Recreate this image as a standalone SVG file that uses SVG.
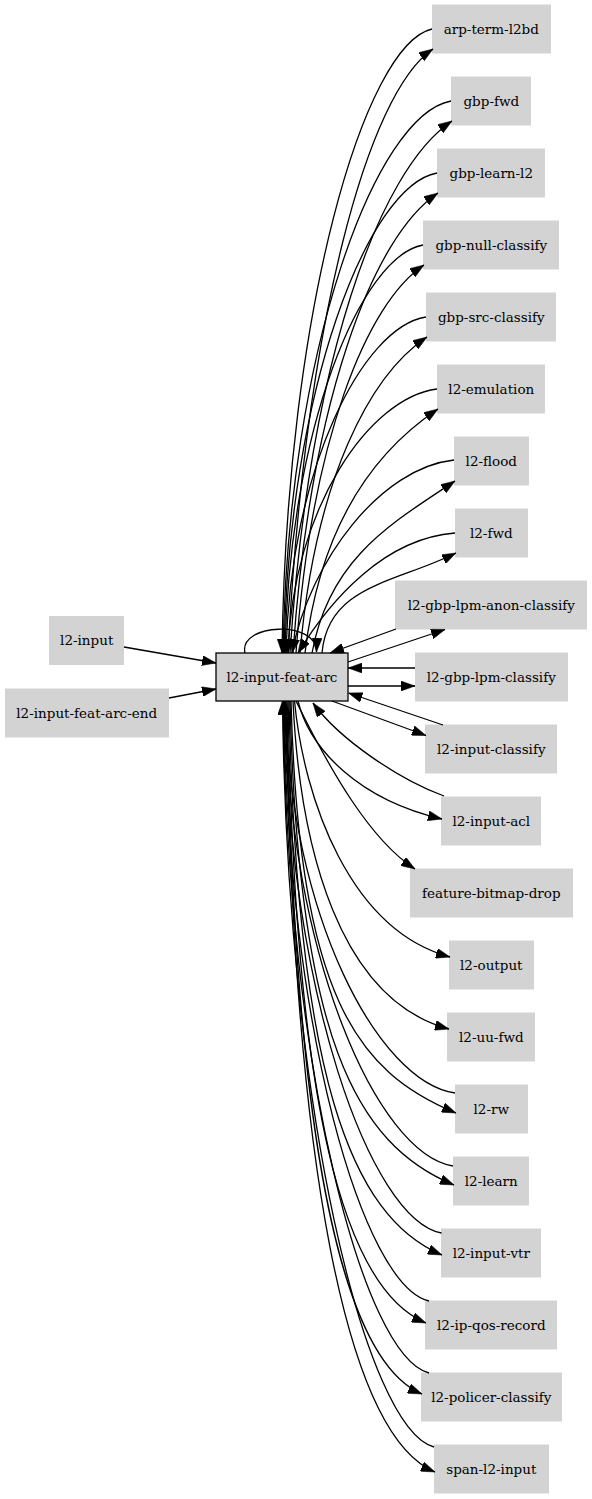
<svg xmlns="http://www.w3.org/2000/svg" width="592" height="1499" viewBox="0 0 592 1499">
<style>
.n rect{fill:#d3d3d3;stroke:none}
.c rect{fill:#d3d3d3;stroke:#000;stroke-width:1.3}
text{font-family:"DejaVu Serif","Liberation Serif",serif;font-size:13.5px;text-anchor:middle;fill:#000}
#edges path{fill:none;stroke:#000;stroke-width:1.3;marker-end:url(#ah)}
</style>
<defs>
<marker id="ah" markerUnits="userSpaceOnUse" markerWidth="14" markerHeight="10" viewBox="0 0 14 10" refX="14" refY="5" orient="auto">
<path d="M0,0 L14,5 L0,10 z" fill="#000" stroke="#000" stroke-width="0.5"/>
</marker>
</defs>
<rect width="592" height="1499" fill="#fff"/>
<g id="l2-input-feat-arc" class="c"><rect x="216" y="653" width="132" height="48"/><text x="282" y="681.7">l2-input-feat-arc</text></g>
<g id="l2-input" class="n"><rect x="49" y="616" width="75" height="49"/><text x="86.7" y="645.2">l2-input</text></g>
<g id="l2-input-feat-arc-end" class="n"><rect x="5" y="688.5" width="164" height="49"/><text x="86.7" y="717.7">l2-input-feat-arc-end</text></g>
<g id="arp-term-l2bd" class="n"><rect x="432" y="4.5" width="119" height="49"/><text x="491.3" y="33.7">arp-term-l2bd</text></g>
<g id="gbp-fwd" class="n"><rect x="451" y="76.5" width="80" height="49"/><text x="491.3" y="105.7">gbp-fwd</text></g>
<g id="gbp-learn-l2" class="n"><rect x="437" y="148.5" width="108" height="49"/><text x="491.3" y="177.7">gbp-learn-l2</text></g>
<g id="gbp-null-classify" class="n"><rect x="423" y="220.5" width="136" height="49"/><text x="491.3" y="249.7">gbp-null-classify</text></g>
<g id="gbp-src-classify" class="n"><rect x="426" y="292.5" width="130" height="49"/><text x="491.3" y="321.7">gbp-src-classify</text></g>
<g id="l2-emulation" class="n"><rect x="437" y="364.5" width="108" height="49"/><text x="491.3" y="393.7">l2-emulation</text></g>
<g id="l2-flood" class="n"><rect x="454" y="436.5" width="75" height="49"/><text x="491.3" y="465.7">l2-flood</text></g>
<g id="l2-fwd" class="n"><rect x="455" y="508.5" width="73" height="49"/><text x="491.3" y="537.7">l2-fwd</text></g>
<g id="l2-gbp-lpm-anon-classify" class="n"><rect x="395" y="580.5" width="192" height="49"/><text x="491.3" y="609.7">l2-gbp-lpm-anon-classify</text></g>
<g id="l2-gbp-lpm-classify" class="n"><rect x="415" y="652.5" width="153" height="49"/><text x="491.3" y="681.7">l2-gbp-lpm-classify</text></g>
<g id="l2-input-classify" class="n"><rect x="425" y="724.5" width="132" height="49"/><text x="491.3" y="753.7">l2-input-classify</text></g>
<g id="l2-input-acl" class="n"><rect x="441" y="796.5" width="100" height="49"/><text x="491.3" y="825.7">l2-input-acl</text></g>
<g id="feature-bitmap-drop" class="n"><rect x="410" y="868.5" width="163" height="49"/><text x="491.3" y="897.7">feature-bitmap-drop</text></g>
<g id="l2-output" class="n"><rect x="449" y="940.5" width="85" height="49"/><text x="491.3" y="969.7">l2-output</text></g>
<g id="l2-uu-fwd" class="n"><rect x="447" y="1012.5" width="88" height="49"/><text x="491.3" y="1041.7">l2-uu-fwd</text></g>
<g id="l2-rw" class="n"><rect x="455" y="1084.5" width="73" height="49"/><text x="491.3" y="1113.7">l2-rw</text></g>
<g id="l2-learn" class="n"><rect x="453" y="1156.5" width="76" height="49"/><text x="491.3" y="1185.7">l2-learn</text></g>
<g id="l2-input-vtr" class="n"><rect x="441" y="1228.5" width="100" height="49"/><text x="491.3" y="1257.7">l2-input-vtr</text></g>
<g id="l2-ip-qos-record" class="n"><rect x="425" y="1300.5" width="132" height="49"/><text x="491.3" y="1329.7">l2-ip-qos-record</text></g>
<g id="l2-policer-classify" class="n"><rect x="421" y="1372.5" width="141" height="49"/><text x="491.3" y="1401.7">l2-policer-classify</text></g>
<g id="span-l2-input" class="n"><rect x="434" y="1444.5" width="115" height="49"/><text x="491.3" y="1473.7">span-l2-input</text></g>
<g id="edges">
<path d="M124,647 L216,663"/>
<path d="M169,698 L216,689"/>
<path d="M245,653 C238,623 318,620 316.5,652"/>
<path d="M432,29 C364.5,44.5 286.5,309.8 282,653"/>
<path d="M451,101 C375.4,115 288,349.4 283,653"/>
<path d="M437,173 C368.1,185.6 288.6,389 284,653"/>
<path d="M423,245 C360.9,256.2 289.1,428.6 285,653"/>
<path d="M426,317 C363,326.7 290.2,468.2 286,653"/>
<path d="M437,389 C370,397.3 292.5,507.8 288,653"/>
<path d="M454,460 C381.1,467.8 310,560 292,653"/>
<path d="M455,533 C384.4,538.4 330,600 298,653"/>
<path d="M288,653 C305.4,320.8 367.75,92.5 433,49"/>
<path d="M290,653 C309.4,360.4 379.1,169.6 452,121"/>
<path d="M293,653 C310.4,400 372.75,236.5 438,193"/>
<path d="M296,653 C311.4,439.6 366.4,303.4 424,265"/>
<path d="M300,653 C315.2,479.2 369.85,375.1 427,337"/>
<path d="M305,653 C321,518.8 378.15,448.9 438,409"/>
<path d="M312,653 C329.2,558.4 390.65,523.9 455,481"/>
<path d="M322,653 C328,585 395.7,583 456,553"/>
<path d="M396,629 L330,653"/>
<path d="M348,662 L445,629.5"/>
<path d="M415,668 L348,668"/>
<path d="M348,686 L415,686"/>
<path d="M443,725 L348.5,693"/>
<path d="M332,701 L426,735.5"/>
<path d="M444,796 C400,780 340,740 313,703"/>
<path d="M298,701 C310,750 360,800 442,819"/>
<path d="M296,701 C330,770 370,840 415,869"/>
<path d="M294.5,701 C304,800 350,930 450,957"/>
<path d="M293,701 C300,850 340,1000 449,1029"/>
<path d="M455,1093 C378.5,1082 290.1,917 285,701"/>
<path d="M453,1166 C377.2,1153.7 289.6,956.75 284.5,701"/>
<path d="M441.5,1233 C370.6,1219.4 288.7,993.6 284,701"/>
<path d="M429,1301 C363.5,1286 287.9,1031 283.5,701"/>
<path d="M429,1373 C363.3,1356.6 287.4,1070.6 283,701"/>
<path d="M434,1447 C365.8,1429 287,1111.3 282.5,701"/>
<path d="M291,701 C299.25,997.6 357,1071.75 456,1113"/>
<path d="M290,701 C298.2,1037.9 355.6,1144 454,1185"/>
<path d="M289,701 C296.65,1073.8 350.2,1216.75 442,1255"/>
<path d="M288,701 C294.9,1106.5 343.2,1288.5 426,1323"/>
<path d="M287,701 C293.75,1136.2 341,1360.25 422,1394"/>
<path d="M286,701 C293.45,1163.6 345.6,1434.75 435,1472"/>
</g>
</svg>
